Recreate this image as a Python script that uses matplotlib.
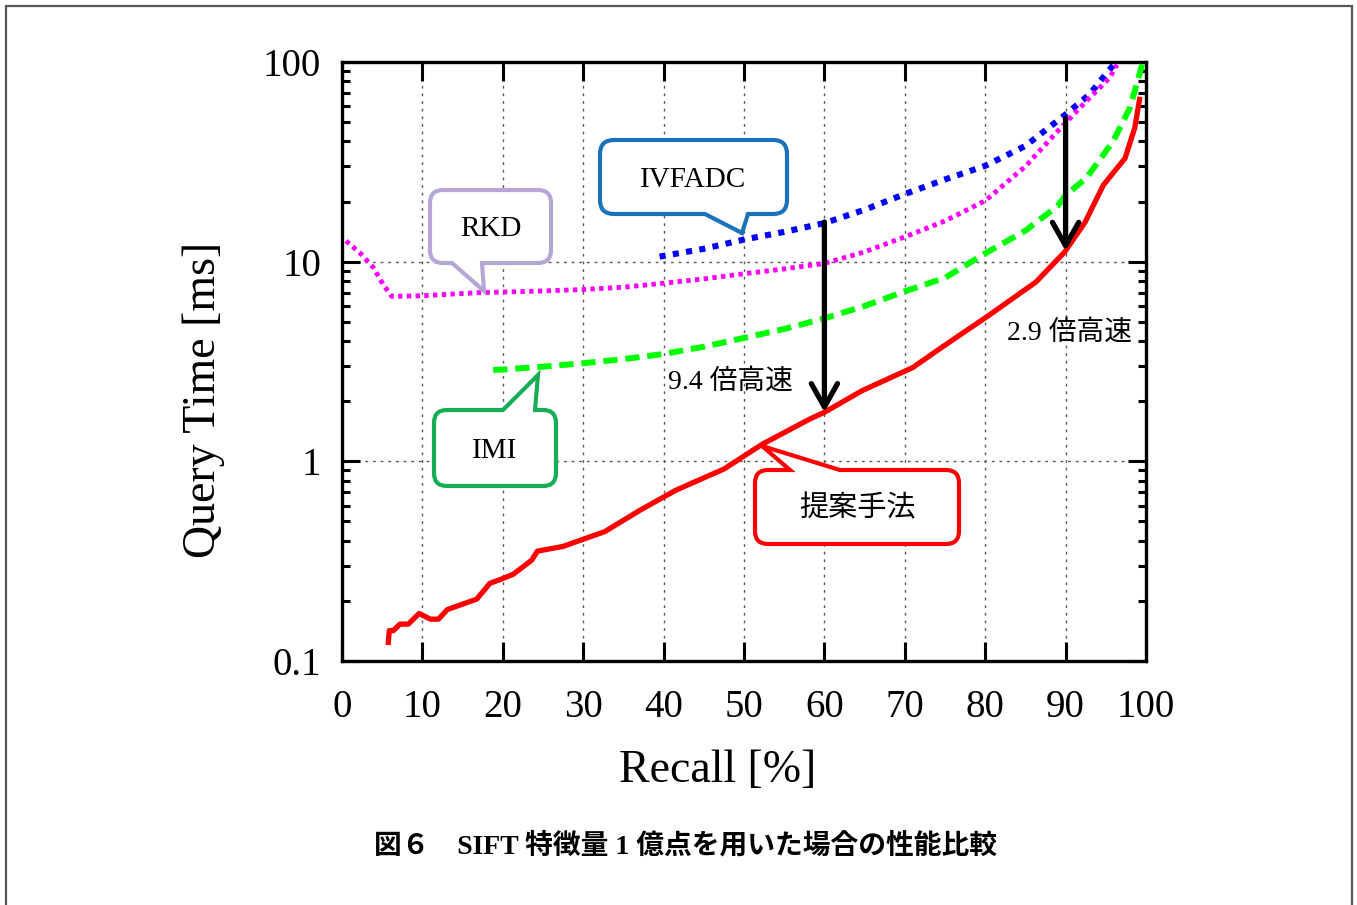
import numpy as np
import matplotlib
matplotlib.use('Agg')
import matplotlib.pyplot as plt
from matplotlib.path import Path
from matplotlib.patches import PathPatch, Rectangle

plt.rcParams['font.family'] = ['Liberation Serif', 'Noto Sans CJK JP']

# data (Recall [%], Query Time [ms])
prop_x = [5.76, 5.88, 6.4, 7.2, 8.25, 9.6, 11.0, 12.0, 13.1, 16.75, 18.4, 19.7, 21.3, 23.6,
          24.3, 27.5, 32.7, 37.1, 41.5, 47.5, 52.3, 58.2, 60.0, 64.7, 71.0, 74.5, 80.5,
          86.3, 89.9, 92.4, 94.7, 97.4, 98.6, 99.2]
prop_y = [0.124, 0.142, 0.142, 0.153, 0.153, 0.173, 0.162, 0.162, 0.181, 0.204, 0.245, 0.256,
          0.272, 0.32, 0.355, 0.375, 0.445, 0.57, 0.716, 0.915, 1.22, 1.63, 1.76, 2.26, 2.95,
          3.7, 5.4, 7.9, 11.2, 15.7, 24.2, 33.0, 46.8, 65.0]

ivf_x = [39.5, 45, 50, 55, 60, 65, 70, 75, 80, 85, 90, 93, 95.3, 96]
ivf_y = [10.6, 11.6, 12.9, 14.1, 15.6, 18.2, 21.8, 25.8, 30.2, 38.0, 54.6, 69.0, 90.0, 97.0]

rkd_x = [0.5, 2.2, 3.9, 5.1, 6.2, 10, 17, 23.4, 30, 35, 40, 45, 50, 55, 60, 65, 70, 75, 80,
         85, 89, 92.6, 95.5, 96.4]
rkd_y = [12.7, 11.1, 9.35, 7.7, 6.7, 6.75, 7.0, 7.1, 7.25, 7.45, 7.8, 8.2, 8.7, 9.2, 9.8,
         11.2, 13.3, 16.0, 20.2, 30.0, 45.0, 63.8, 83.5, 97.0]

imi_x = [18.8, 20, 25, 30, 35, 40, 45, 50, 55, 60, 65, 70, 75, 80, 85, 89, 90, 92.6, 95.9,
         98, 99.3, 99.6]
imi_y = [2.87, 2.88, 2.98, 3.1, 3.25, 3.45, 3.75, 4.15, 4.6, 5.2, 6.0, 7.1, 8.3, 11.0, 14.3,
         19.0, 21.5, 26.3, 40.0, 59.0, 90.0, 100.0]

# speed-up arrows: (recall, from, to, label, label_x, label_y)
speedups = [(60, 15.8, 1.76, '9.4 倍高速', 48.3, 2.51),
            (90, 52.0, 11.3, '2.9 倍高速', 90.5, 4.41)]

xticks = [0, 10, 20, 30, 40, 50, 60, 70, 80, 90, 100]
yticks = [0.1, 1, 10, 100]
ytick_labels = ['0.1', '1', '10', '100']

W, H = 1357, 905
fig = plt.figure(figsize=(W / 100, H / 100), dpi=100)
ax = fig.add_axes([342 / W, 1 - 661 / H, 804 / W, 599 / H])

ax.plot(prop_x, prop_y, color='#ff0000', lw=3.8, zorder=4)
ax.plot(ivf_x, ivf_y, color='#0000ff', lw=4.4, ls=(0, (1, 1.2)), zorder=3)
ax.plot(rkd_x, rkd_y, color='#ff00ff', lw=3.5, ls=(0, (0.9, 0.9)), zorder=3)
ax.plot(imi_x, imi_y, color='#00ff00', lw=4.3, ls=(0, (2.4, 1.3)), zorder=3)

for x, y0, y1, lab, lx, ly in speedups:
    ax.annotate('', xy=(x, y1), xytext=(x, y0),
                arrowprops=dict(arrowstyle='->,head_length=0.8,head_width=0.45',
                                lw=3.8, color='black', shrinkA=0, shrinkB=0,
                                mutation_scale=21), zorder=6)
    ax.text(lx, ly, lab, ha='center', va='center', fontsize=20, zorder=6)

ax.set_yscale('log')
ax.set_xlim(0, 100)
ax.set_ylim(0.1, 100)
ax.set_xticks(xticks)
ax.set_yticks(yticks)
ax.set_yticklabels(ytick_labels)
ax.xaxis.set_minor_locator(matplotlib.ticker.NullLocator())
ax.tick_params(which='both', direction='in', top=True, right=True, labelsize=28, width=2.2)
ax.tick_params(axis='x', which='major', length=14, pad=20)
ax.tick_params(axis='y', which='major', length=13, pad=15)
ax.tick_params(axis='y', which='minor', length=6)
for s in ax.spines.values():
    s.set_linewidth(2.4)
ax.grid(True, which='major', color='0.35', lw=1.0, ls=(0, (2, 3.5)))

fig.text(718 / W, 1 - 771 / H, 'Recall [%]', ha='center', va='center', fontsize=33)
fig.text(204 / W, 1 - 400 / H, 'Query Time [ms]', ha='center', va='center',
         rotation=90, fontsize=33)


def callout(x0, y0, x1, y1, r, edge, ta, tip, tb, color):
    v = [(x0 + r, y0)]
    c = [Path.MOVETO]
    if edge == 'top':
        v += [(ta, y0), tip, (tb, y0)]
        c += [Path.LINETO] * 3
    v += [(x1 - r, y0), (x1, y0), (x1, y0 + r), (x1, y1 - r), (x1, y1), (x1 - r, y1)]
    c += [Path.LINETO, Path.CURVE3, Path.CURVE3, Path.LINETO, Path.CURVE3, Path.CURVE3]
    if edge == 'bottom':
        v += [(tb, y1), tip, (ta, y1)]
        c += [Path.LINETO] * 3
    v += [(x0 + r, y1), (x0, y1), (x0, y1 - r), (x0, y0 + r), (x0, y0), (x0 + r, y0), (x0 + r, y0)]
    c += [Path.LINETO, Path.CURVE3, Path.CURVE3, Path.LINETO, Path.CURVE3, Path.CURVE3,
          Path.CLOSEPOLY]
    v = [(px / W, 1 - py / H) for px, py in v]
    fig.add_artist(PathPatch(Path(v, c), transform=fig.transFigure, facecolor='white',
                             edgecolor=color, lw=3.0, zorder=5))


callout(600, 140, 787, 214, 14, 'bottom', 705, (742, 233), 748, '#1a73ba')
callout(430, 190, 551, 263, 13, 'bottom', 452, (484, 291), 482, '#b4a7d6')
callout(434, 410, 556, 486, 13, 'top', 503, (538, 375), 535, '#16ad55')
callout(755, 470, 959, 544, 13, 'top', 790, (762, 446), 840, '#ff0000')

for tx, ty, t in [(693, 180, 'IVFADC'), (491, 229, 'RKD'), (495, 451, 'IMI'),
                  (857, 509, '提案手法')]:
    fig.text(tx / W, 1 - ty / H, t, ha='center', va='center', fontsize=21, zorder=6)

fig.text(686 / W, 1 - 846 / H, '図６　SIFT 特徴量 1 億点を用いた場合の性能比較',
         ha='center', va='center', fontsize=20, weight='bold')

fig.add_artist(Rectangle((6 / W, -0.05), 1346 / W, 1 - 6 / H + 0.05, transform=fig.transFigure,
                         fill=False, edgecolor='#555555', lw=1.6))

fig.savefig('out.png', dpi=100)
